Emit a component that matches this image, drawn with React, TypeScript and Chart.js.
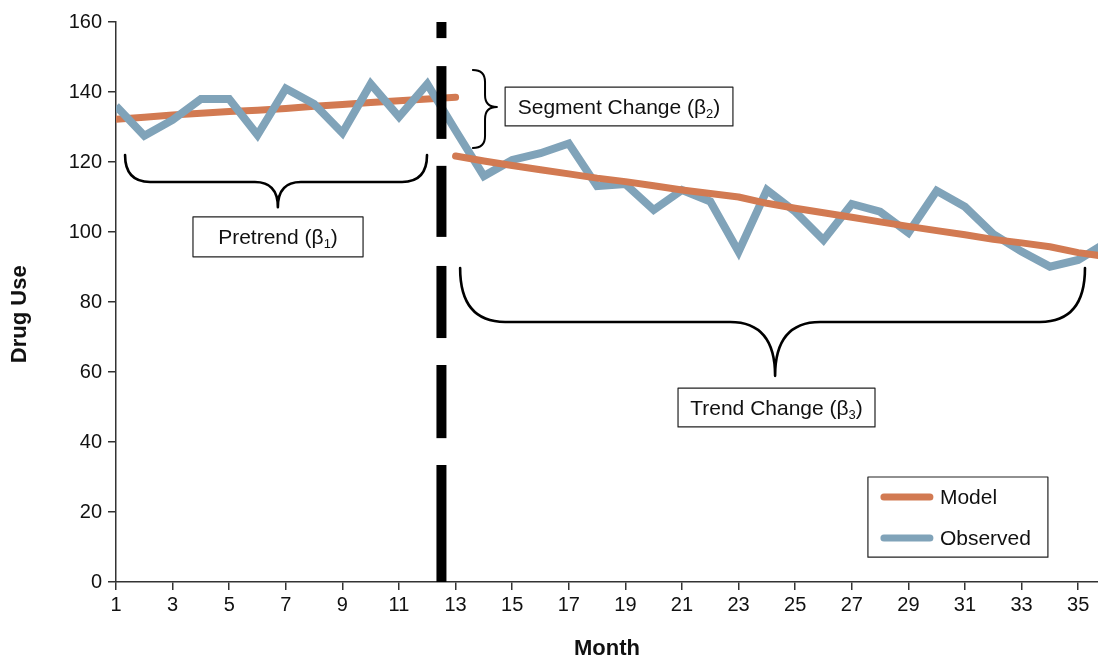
import React, { useEffect, useRef } from 'react';
import { Chart, registerables } from 'chart.js';

Chart.register(...registerables);

// ---------- Data ----------
const MONTHS = [
  1, 2, 3, 4, 5, 6, 7, 8, 9, 10, 11, 12, 13, 14, 15, 16, 17, 18,
  19, 20, 21, 22, 23, 24, 25, 26, 27, 28, 29, 30, 31, 32, 33, 34, 35, 36,
];
const OBSERVED = [
  136, 127.5, 132, 138, 138, 127.7, 141, 136.6, 128.3, 142.3, 132.9, 142.3,
  129, 116, 120.6, 122.5, 125.3, 113.1, 113.7, 106.3, 112, 108.7, 94.4, 112,
  105.8, 97.7, 108, 105.8, 99.8, 111.8, 107.2, 99.4, 94.4, 90.1, 92, 97,
];
const MODEL_PRE_MONTHS = [1, 2, 3, 4, 5, 6, 7, 8, 9, 10, 11, 12, 13];
const MODEL_PRE = [
  132.2, 132.8, 133.4, 133.9, 134.4, 134.8, 135.3, 135.9, 136.4, 137.0, 137.5, 138.0, 138.5,
];
const MODEL_POST_MONTHS = [
  13, 14, 15, 16, 17, 18, 19, 20, 21, 22, 23, 24, 25, 26, 27, 28, 29, 30, 31, 32, 33, 34, 35, 36,
];
const MODEL_POST = [
  121.7, 120.3, 119.0, 117.8, 116.6, 115.4, 114.4, 113.2, 112.0, 111.0, 110.0, 108.2,
  106.8, 105.5, 104.2, 102.9, 101.6, 100.4, 99.2, 97.9, 96.9, 95.8, 94.1, 93.0,
];
const MONTH_TICKS = [1, 3, 5, 7, 9, 11, 13, 15, 17, 19, 21, 23, 25, 27, 29, 31, 33, 35];
const INTERRUPTION_MONTH = 12.5;
const SERIES_NAMES = ['Model', 'Observed'];
const X_TITLE = 'Month';
const Y_TITLE = 'Drug Use';

const ORANGE = '#D27A52';
const BLUE = '#80A3B9';
const FONT = '"Liberation Sans", Arial, Helvetica, sans-serif';

// ---------- Decorations plugin ----------
function drawBraceDown(ctx: CanvasRenderingContext2D, x0: number, x1: number, xc: number,
  yTop: number, yMid: number, yTip: number, r: number, r2: number) {
  ctx.beginPath();
  ctx.moveTo(x0, yTop);
  ctx.quadraticCurveTo(x0, yMid, x0 + r, yMid);
  ctx.lineTo(xc - r2, yMid);
  ctx.quadraticCurveTo(xc, yMid, xc, yTip);
  ctx.quadraticCurveTo(xc, yMid, xc + r2, yMid);
  ctx.lineTo(x1 - r, yMid);
  ctx.quadraticCurveTo(x1, yMid, x1, yTop);
  ctx.stroke();
}

function drawBraceRight(ctx: CanvasRenderingContext2D, xEnd: number, xStem: number, xTip: number,
  yTop: number, yBot: number, yTip: number, r: number) {
  ctx.beginPath();
  ctx.moveTo(xEnd, yTop);
  ctx.quadraticCurveTo(xStem, yTop, xStem, yTop + r);
  ctx.lineTo(xStem, yTip - r);
  ctx.quadraticCurveTo(xStem, yTip, xTip, yTip);
  ctx.quadraticCurveTo(xStem, yTip, xStem, yTip + r);
  ctx.lineTo(xStem, yBot - r);
  ctx.quadraticCurveTo(xStem, yBot, xEnd, yBot);
  ctx.stroke();
}

function drawLabelBox(ctx: CanvasRenderingContext2D, x0: number, y0: number, x1: number, y1: number,
  main: string, sub: string, tail: string) {
  ctx.fillStyle = '#fff';
  ctx.fillRect(x0, y0, x1 - x0, y1 - y0);
  ctx.strokeStyle = '#222';
  ctx.lineWidth = 1.2;
  ctx.strokeRect(x0, y0, x1 - x0, y1 - y0);
  const mainFont = `21px ${FONT}`;
  const subFont = `13px ${FONT}`;
  ctx.font = mainFont;
  const w1 = ctx.measureText(main).width;
  const w3 = ctx.measureText(tail).width;
  ctx.font = subFont;
  const w2 = ctx.measureText(sub).width;
  const total = w1 + w2 + w3;
  const cx = (x0 + x1) / 2;
  const cy = (y0 + y1) / 2;
  let sx = cx - total / 2;
  const base = cy + 7.5;
  ctx.fillStyle = '#111';
  ctx.textBaseline = 'alphabetic';
  ctx.textAlign = 'left';
  ctx.font = mainFont;
  ctx.fillText(main, sx, base);
  sx += w1;
  ctx.font = subFont;
  ctx.fillText(sub, sx, base + 4);
  sx += w2;
  ctx.font = mainFont;
  ctx.fillText(tail, sx, base);
}

const decorPlugin = {
  id: 'decor',
  afterDatasetsDraw(chart: any) {
    const { ctx } = chart;
    const xs = chart.scales.x;
    const ys = chart.scales.y;
    const X = (m: number) => xs.getPixelForValue(m);
    const Y = (v: number) => ys.getPixelForValue(v);
    ctx.save();

    // interruption dashed line
    const xi = X(INTERRUPTION_MONTH);
    const dashes: [number, number][] = [
      [160, 155.4], [147.4, 126.6], [118.9, 98.6], [90.3, 69.7], [62, 41.1], [33.4, 0],
    ];
    ctx.strokeStyle = '#000';
    ctx.lineWidth = 10;
    ctx.lineCap = 'butt';
    dashes.forEach(([a, b]) => {
      ctx.beginPath();
      ctx.moveTo(xi, Y(a));
      ctx.lineTo(xi, Y(b));
      ctx.stroke();
    });

    // braces
    ctx.strokeStyle = '#000';
    ctx.lineWidth = 2.6;
    ctx.lineCap = 'round';
    ctx.lineJoin = 'round';
    drawBraceDown(ctx, X(1.32), X(11.99), X(6.72), Y(122), Y(114.3), Y(107.1), 25, 23);
    drawBraceDown(ctx, X(13.16), X(35.24), X(24.29), Y(89.7), Y(74.3), Y(58.9), 45, 45);
    ctx.lineWidth = 2;
    drawBraceRight(ctx, X(13.61), X(14.04), X(14.46), Y(146.3), Y(124), Y(135.7), 12);

    // label boxes
    drawLabelBox(ctx, X(3.72), Y(104.3), X(9.73), Y(92.9), 'Pretrend (\u03B2', '1', ')');
    drawLabelBox(ctx, X(14.75), Y(141.4), X(22.8), Y(130.3), 'Segment Change (\u03B2', '2', ')');
    drawLabelBox(ctx, X(20.86), Y(55.4), X(27.82), Y(44.3), 'Trend Change (\u03B2', '3', ')');

    // legend
    const lx0 = X(27.57), lx1 = X(33.93), ly0 = Y(30), ly1 = Y(7.1);
    ctx.fillStyle = '#fff';
    ctx.fillRect(lx0, ly0, lx1 - lx0, ly1 - ly0);
    ctx.strokeStyle = '#222';
    ctx.lineWidth = 1.2;
    ctx.strokeRect(lx0, ly0, lx1 - lx0, ly1 - ly0);
    const rows = [
      { name: SERIES_NAMES[0], color: ORANGE, y: ly0 + 20 },
      { name: SERIES_NAMES[1], color: BLUE, y: ly0 + 61 },
    ];
    rows.forEach((r) => {
      ctx.strokeStyle = r.color;
      ctx.lineWidth = 7;
      ctx.lineCap = 'round';
      ctx.beginPath();
      ctx.moveTo(lx0 + 16, r.y);
      ctx.lineTo(lx0 + 62, r.y);
      ctx.stroke();
      ctx.fillStyle = '#111';
      ctx.font = `21px ${FONT}`;
      ctx.textAlign = 'left';
      ctx.textBaseline = 'middle';
      ctx.fillText(r.name, lx0 + 72, r.y + 1);
    });

    // y-axis title (placed as in the reference, slightly below the axis centre)
    ctx.save();
    ctx.translate(20, Y(76.5));
    ctx.rotate(-Math.PI / 2);
    ctx.fillStyle = '#111';
    ctx.font = `bold 22px ${FONT}`;
    ctx.textAlign = 'center';
    ctx.textBaseline = 'middle';
    ctx.fillText(Y_TITLE, 0, 0);
    ctx.restore();

    ctx.restore();
  },
};

export default function App() {
  const ref = useRef<HTMLCanvasElement | null>(null);

  useEffect(() => {
    if (!ref.current) return;
    const chart = new Chart(ref.current, {
      type: 'line',
      data: {
        datasets: [
          {
            label: SERIES_NAMES[0],
            data: MODEL_PRE_MONTHS.map((m, i) => ({ x: m, y: MODEL_PRE[i] })),
            borderColor: ORANGE,
            borderWidth: 7,
            borderCapStyle: 'round',
            borderJoinStyle: 'round',
            pointRadius: 0,
            tension: 0,
            order: 3,
          },
          {
            label: SERIES_NAMES[1],
            data: MONTHS.map((m, i) => ({ x: m, y: OBSERVED[i] })),
            borderColor: BLUE,
            borderWidth: 8,
            borderCapStyle: 'butt',
            borderJoinStyle: 'miter',
            pointRadius: 0,
            tension: 0,
            order: 2,
          },
          {
            label: SERIES_NAMES[0] + ' (post)',
            data: MODEL_POST_MONTHS.map((m, i) => ({ x: m, y: MODEL_POST[i] })),
            borderColor: ORANGE,
            borderWidth: 7,
            borderCapStyle: 'round',
            borderJoinStyle: 'round',
            pointRadius: 0,
            tension: 0,
            order: 1,
          },
        ],
      },
      options: {
        animation: false,
        responsive: false,
        devicePixelRatio: 1,
        layout: { padding: { top: 22, left: 0, right: 0, bottom: 0 } },
        plugins: {
          legend: { display: false },
          tooltip: { enabled: false },
        },
        scales: {
          x: {
            type: 'linear',
            min: 1,
            max: 35.7,
            afterBuildTicks: (s: any) => {
              s.ticks = MONTH_TICKS.map((v) => ({ value: v }));
            },
            afterFit: (s: any) => {
              s.height = 80;
            },
            ticks: {
              autoSkip: false,
              maxRotation: 0,
              color: '#111',
              font: { family: FONT, size: 20 },
              padding: 3,
              callback: (v: any) => String(v),
            },
            grid: {
              display: true,
              drawOnChartArea: false,
              drawTicks: true,
              tickLength: 8,
              color: '#333',
              lineWidth: 1.5,
            },
            border: { display: true, color: '#333', width: 1.5 },
            title: {
              display: true,
              text: X_TITLE,
              color: '#111',
              font: { family: FONT, size: 22, weight: 'bold' },
              padding: { top: 0, bottom: 0 },
            },
          },
          y: {
            min: 0,
            max: 160,
            ticks: {
              stepSize: 20,
              color: '#111',
              font: { family: FONT, size: 20 },
              padding: 6,
            },
            afterFit: (s: any) => {
              s.width = 116;
            },
            grid: {
              display: true,
              drawOnChartArea: false,
              drawTicks: true,
              tickLength: 8,
              color: '#333',
              lineWidth: 1.5,
            },
            border: { display: true, color: '#333', width: 1.5 },
            title: { display: false, text: Y_TITLE },
          },
        },
      },
      plugins: [decorPlugin],
    } as any);
    return () => chart.destroy();
  }, []);

  return (
    <div style={{ position: 'fixed', left: 0, top: 0, width: 1098, height: 662, background: '#fff' }}>
      <canvas ref={ref} width={1098} height={662} style={{ display: 'block', width: 1098, height: 662 }} />
    </div>
  );
}
